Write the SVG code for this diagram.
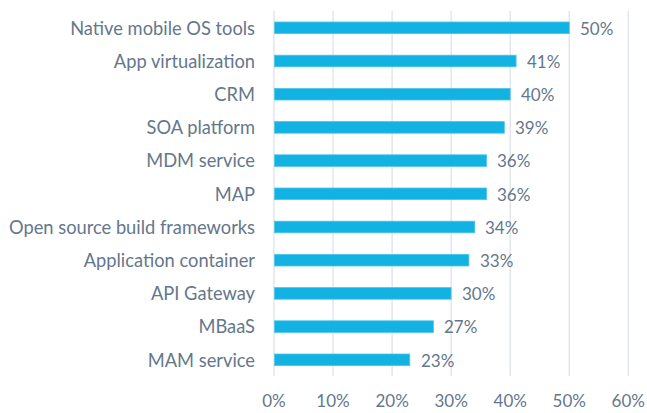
<svg xmlns="http://www.w3.org/2000/svg" width="647" height="413" viewBox="0 0 647 413">
<style>
text{font-family:"Lato","Liberation Sans",sans-serif;font-size:17px;fill:#64778C}
.cat{text-anchor:end;font-size:18.3px}
.ax{text-anchor:middle}
.bar{fill:#12B2E2;stroke:#52C4EA;stroke-width:0.8}
.grid line{stroke:#E2E7ED;stroke-width:1.5}
</style>
<rect width="647" height="413" fill="#fff"/>
<g class="grid">
<line x1="274" y1="11" x2="274" y2="376"/>
<line x1="333.05" y1="11" x2="333.05" y2="376"/>
<line x1="392.1" y1="11" x2="392.1" y2="376"/>
<line x1="451.15" y1="11" x2="451.15" y2="376"/>
<line x1="510.2" y1="11" x2="510.2" y2="376"/>
<line x1="569.25" y1="11" x2="569.25" y2="376"/>
<line x1="628.3" y1="11" x2="628.3" y2="376"/>
</g>
<g id="axis">
<text class="ax" x="274" y="407">0%</text>
<text class="ax" x="333.05" y="407">10%</text>
<text class="ax" x="392.1" y="407">20%</text>
<text class="ax" x="451.15" y="407">30%</text>
<text class="ax" x="510.2" y="407">40%</text>
<text class="ax" x="569.25" y="407">50%</text>
<text class="ax" x="628.3" y="407">60%</text>
</g>
<g id="row1"><rect class="bar" x="274.5" y="22" width="294.75" height="11.6"/><text class="cat" x="255" y="34.5">Native mobile OS tools</text><text x="580" y="34.5">50%</text></g>
<g id="row2"><rect class="bar" x="274.5" y="55.2" width="241.6" height="11.6"/><text class="cat" x="255" y="67.7">App virtualization</text><text x="527" y="67.7">41%</text></g>
<g id="row3"><rect class="bar" x="274.5" y="88.4" width="235.7" height="11.6"/><text class="cat" x="255" y="100.9">CRM</text><text x="521" y="100.9">40%</text></g>
<g id="row4"><rect class="bar" x="274.5" y="121.6" width="229.8" height="11.6"/><text class="cat" x="255" y="134.1">SOA platform</text><text x="515" y="134.1">39%</text></g>
<g id="row5"><rect class="bar" x="274.5" y="154.8" width="212.1" height="11.6"/><text class="cat" x="255" y="167.3">MDM service</text><text x="497" y="167.3">36%</text></g>
<g id="row6"><rect class="bar" x="274.5" y="188" width="212.1" height="11.6"/><text class="cat" x="255" y="200.5">MAP</text><text x="497" y="200.5">36%</text></g>
<g id="row7"><rect class="bar" x="274.5" y="221.2" width="200.3" height="11.6"/><text class="cat" x="255" y="233.7">Open source build frameworks</text><text x="485" y="233.7">34%</text></g>
<g id="row8"><rect class="bar" x="274.5" y="254.4" width="194.4" height="11.6"/><text class="cat" x="255" y="266.9">Application container</text><text x="480" y="266.9">33%</text></g>
<g id="row9"><rect class="bar" x="274.5" y="287.6" width="176.6" height="11.6"/><text class="cat" x="255" y="300.1">API Gateway</text><text x="462" y="300.1">30%</text></g>
<g id="row10"><rect class="bar" x="274.5" y="320.8" width="158.9" height="11.6"/><text class="cat" x="255" y="333.3">MBaaS</text><text x="444" y="333.3">27%</text></g>
<g id="row11"><rect class="bar" x="274.5" y="354" width="135.3" height="11.6"/><text class="cat" x="255" y="366.5">MAM service</text><text x="421" y="366.5">23%</text></g>
</svg>
